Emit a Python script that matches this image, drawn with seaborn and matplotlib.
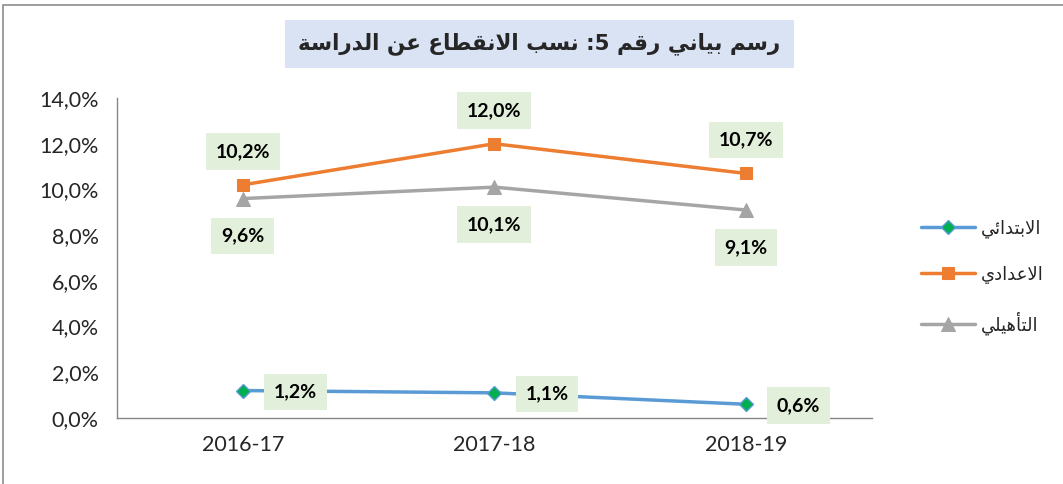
"""Dropout rates by school level, 2016-17 to 2018-19."""

import matplotlib
matplotlib.use('Agg')
import matplotlib.pyplot as plt
import matplotlib.patches as mpatches
from matplotlib.ticker import FuncFormatter, FixedLocator
import seaborn as sns

years = ['2016-17', '2017-18', '2018-19']
primary = [1.2, 1.1, 0.6]
middle = [10.2, 12.0, 10.7]
secondary = [9.6, 10.1, 9.1]

series_names = ['الابتدائي', 'الاعدادي', 'التأهيلي']
title = 'رسم بياني رقم 5: نسب الانقطاع عن الدراسة'

# minimal arabic shaping: letter -> (isolated form codepoint, joining type)
ARABIC = {
    'ء': (0xFE80, 'U'), 'آ': (0xFE81, 'R'), 'أ': (0xFE83, 'R'), 'ؤ': (0xFE85, 'R'),
    'إ': (0xFE87, 'R'), 'ئ': (0xFE89, 'D'), 'ا': (0xFE8D, 'R'), 'ب': (0xFE8F, 'D'),
    'ة': (0xFE93, 'R'), 'ت': (0xFE95, 'D'), 'ث': (0xFE99, 'D'), 'ج': (0xFE9D, 'D'),
    'ح': (0xFEA1, 'D'), 'خ': (0xFEA5, 'D'), 'د': (0xFEA9, 'R'), 'ذ': (0xFEAB, 'R'),
    'ر': (0xFEAD, 'R'), 'ز': (0xFEAF, 'R'), 'س': (0xFEB1, 'D'), 'ش': (0xFEB5, 'D'),
    'ص': (0xFEB9, 'D'), 'ض': (0xFEBD, 'D'), 'ط': (0xFEC1, 'D'), 'ظ': (0xFEC5, 'D'),
    'ع': (0xFEC9, 'D'), 'غ': (0xFECD, 'D'), 'ف': (0xFED1, 'D'), 'ق': (0xFED5, 'D'),
    'ك': (0xFED9, 'D'), 'ل': (0xFEDD, 'D'), 'م': (0xFEE1, 'D'), 'ن': (0xFEE5, 'D'),
    'ه': (0xFEE9, 'D'), 'و': (0xFEED, 'R'), 'ي': (0xFEF1, 'D'),
}
LAM_ALEF = {'ا': (0xFEFB, 0xFEFC), 'أ': (0xFEF7, 0xFEF8),
            'إ': (0xFEF9, 0xFEFA), 'آ': (0xFEF5, 0xFEF6)}


def rtl(text):
    out = []
    prev_joins = False
    i = 0
    while i < len(text):
        c = text[i]
        if c not in ARABIC:
            out.append(c)
            prev_joins = False
            i += 1
            continue
        if c == 'ل' and i + 1 < len(text) and text[i + 1] in LAM_ALEF:
            iso, fin = LAM_ALEF[text[i + 1]]
            out.append(chr(fin if prev_joins else iso))
            prev_joins = False
            i += 2
            continue
        base, kind = ARABIC[c]
        nxt = text[i + 1] if i + 1 < len(text) else None
        next_joins = kind == 'D' and nxt in ARABIC and ARABIC[nxt][1] != 'U'
        if kind == 'U':
            form = base
        elif kind == 'R':
            form = base + 1 if prev_joins else base
        elif prev_joins and next_joins:
            form = base + 3
        elif prev_joins:
            form = base + 1
        elif next_joins:
            form = base + 2
        else:
            form = base
        out.append(chr(form))
        prev_joins = next_joins
        i += 1
    return ''.join(reversed(out))


sns.set_style('white')
plt.rcParams['font.family'] = ['Lato', 'DejaVu Sans']

fig = plt.figure(figsize=(10.63, 4.84), dpi=100)
ax = fig.add_axes([0.110, 0.1364, 0.710, 0.6611])

styles = [
    dict(color='#5B9BD5', marker='D', markersize=7, markerfacecolor='#00B050',
         markeredgecolor='#5B9BD5', markeredgewidth=1),
    dict(color='#ED7D31', marker='s', markersize=9, markerfacecolor='#ED7D31',
         markeredgecolor='#ED7D31'),
    dict(color='#A5A5A5', marker='^', markersize=10, markerfacecolor='#A5A5A5',
         markeredgecolor='#A5A5A5'),
]
label_offsets = [(38, -1), (0, 24), (0, -27)]

for name, values, style, offset in zip(series_names, [primary, middle, secondary],
                                       styles, label_offsets):
    sns.lineplot(x=years, y=values, ax=ax, linewidth=2.5, label=rtl(name),
                 sort=False, **style)
    for x, v in zip(years, values):
        ax.annotate(f'{v:.1f}%'.replace('.', ','), (x, v), xytext=offset,
                    textcoords='offset points', ha='center', va='center',
                    fontsize=14, fontweight='bold', color='black',
                    bbox=dict(boxstyle='square,pad=0.5', fc='#E2EFDA', ec='none'))

ax.set_ylim(0, 14)
ax.set_xlim(-0.5, 2.5)
ax.set_yticks(range(0, 15, 2))
ax.yaxis.set_major_formatter(FuncFormatter(lambda v, _: f'{v:.1f}%'.replace('.', ',')))
ax.xaxis.set_minor_locator(FixedLocator([-0.5, 0.5, 1.5, 2.5]))
ax.tick_params(axis='x', which='major', length=0, pad=12, labelsize=15.5)
ax.tick_params(axis='x', which='minor', length=7, color='#868686', width=1)
ax.tick_params(axis='y', length=7, color='#868686', width=1, labelsize=15.5, pad=6)
ax.set_xlabel('')
ax.set_ylabel('')
for side in ['top', 'right']:
    ax.spines[side].set_visible(False)
for side in ['left', 'bottom']:
    ax.spines[side].set_color('#868686')
    ax.spines[side].set_linewidth(1)

leg = ax.legend(loc='upper left', bbox_to_anchor=(905 / 1063, 1 - 203 / 484),
                bbox_transform=fig.transFigure, frameon=False, handlelength=3.0,
                labelspacing=1.55, handletextpad=0.3,
                prop=dict(family='DejaVu Sans', size=13))

fig.text(0.5075, 0.909, rtl(title), ha='center', va='center', fontsize=15.5,
         fontweight='bold', family='DejaVu Sans',
         bbox=dict(boxstyle='square,pad=0.6', fc='#DAE3F3', ec='none'))

fig.patches.append(mpatches.Rectangle((3 / 1063, -0.1), 1.2, 1 - 5 / 484 + 0.1,
                                      transform=fig.transFigure, fill=False,
                                      ec='#8C8C8C', lw=1.2))

fig.savefig('out.png', dpi=100)
